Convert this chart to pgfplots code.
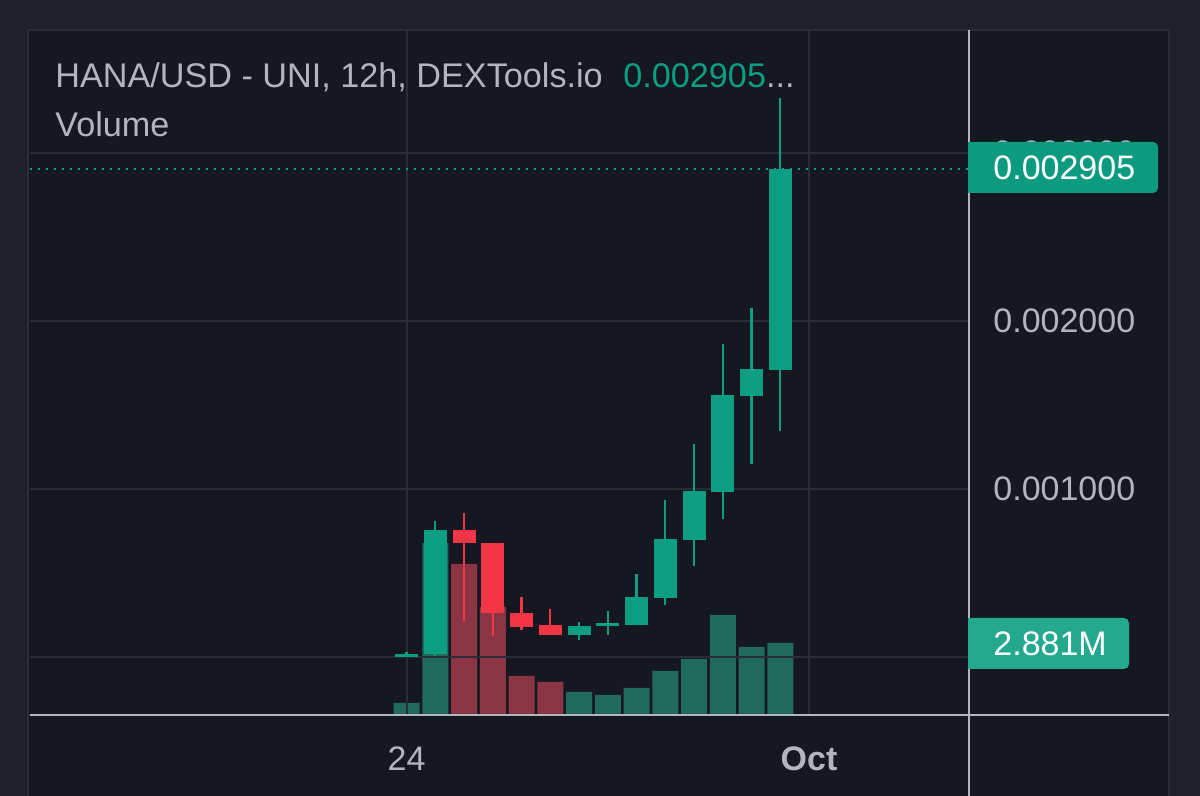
\documentclass[border=0pt]{standalone}
\usepackage{pgfplots}
\usepackage{pgfplotstable}
\pgfplotsset{compat=1.18}
\usepackage{fontspec}
\setmainfont{Liberation Sans}
\definecolor{outerbg}{HTML}{1E212B}
\definecolor{panelbg}{HTML}{161821}
\definecolor{gridc}{HTML}{2A2D38}
\definecolor{axc}{HTML}{B2B5BE}
\definecolor{txt}{HTML}{B2B5BE}
\definecolor{upc}{HTML}{0C9E83}
\definecolor{dnc}{HTML}{F23645}
\definecolor{upv}{HTML}{1F6A5D}
\definecolor{dnv}{HTML}{8A3444}
\definecolor{boxa}{HTML}{0C9B80}
\definecolor{boxb}{HTML}{24A88E}

% up candles: index, open, high, low, close
\pgfplotstableread{
i O H L C
0 0.000000 0.000030 0.000000 0.000018
1 0.000015 0.000810 0.000005 0.000756
6 0.000131 0.000208 0.000101 0.000185
7 0.000187 0.000274 0.000131 0.000205
8 0.000190 0.000494 0.000190 0.000357
9 0.000351 0.000935 0.000310 0.000702
10 0.000696 0.001268 0.000542 0.000988
11 0.000982 0.001865 0.000821 0.001560
12 0.001554 0.002077 0.001149 0.001714
13 0.001708 0.003327 0.001345 0.002905
}\up
% down candles
\pgfplotstableread{
i O H L C
2 0.000756 0.000857 0.000214 0.000679
3 0.000679 0.000679 0.000125 0.000262
4 0.000262 0.000357 0.000161 0.000179
5 0.000190 0.000286 0.000131 0.000131
}\down
% volume (millions)
\pgfplotstableread{
i v
0 0.48
1 6.88
6 0.92
7 0.80
8 1.08
9 1.76
10 2.24
11 4.00
12 2.72
13 2.881
}\upvol
\pgfplotstableread{
i v
2 6.04
3 4.32
4 1.56
5 1.32
}\dnvol

\pgfplotsset{candle/.style={only marks, mark size=0pt, mark options={draw=none, fill=none},
  error bars/y dir=both, error bars/y explicit, error bars/error mark=none}}

\begin{document}
\begin{tikzpicture}
\useasboundingbox (0,0) rectangle (600pt,398pt);
\fill[outerbg] (0,0) rectangle (600pt,398pt);
\fill[panelbg] (14pt,0pt) rectangle (584.5pt,383pt);
\draw[gridc, line width=0.8pt] (14pt,0pt) -- (14pt,383pt) -- (584.5pt,383pt) -- (584.5pt,0pt);

% volume axis
\begin{axis}[at={(15pt,40.5pt)}, anchor=south west, scale only axis,
  width=469.5pt, height=342.5pt,
  xmin=-13.096, xmax=19.565, ymin=0, ymax=27.4, hide axis]
\addplot[ybar, bar width=13pt, bar shift=0pt, fill=upv, draw=none] table[x=i,y=v]{\upvol};
\addplot[ybar, bar width=13pt, bar shift=0pt, fill=dnv, draw=none] table[x=i,y=v]{\dnvol};
\end{axis}

% price axis
\begin{axis}[at={(15pt,40.5pt)}, anchor=south west, scale only axis,
  width=469.5pt, height=342.5pt,
  xmin=-13.096, xmax=19.565, ymin=-0.00034524, ymax=0.00373214,
  axis line style={draw=none},
  xtick={0,14}, xticklabels={24,\textbf{Oct}},
  ytick={0,0.001,0.002,0.003},
  yticklabels={0,0.001000,0.002000,0.003000},
  scaled y ticks=false,
  yticklabel pos=right,
  grid=major, grid style={gridc, line width=1pt},
  major tick length=0pt, tick style={draw=none},
  ticklabel style={font=\fontsize{17}{20}\selectfont, text=txt},
  yticklabel style={anchor=west, inner sep=0pt, xshift=12pt},
  xticklabel style={anchor=base, inner sep=0pt, yshift=-28pt},
  clip=false]
\addplot[upc, line width=1.2pt, dash pattern=on 1.2pt off 2.8pt] coordinates {(-13.096,0.002905) (19.565,0.002905)};
% wicks
\addplot[candle, error bars/error bar style={line width=1.15pt, upc}]
  table[x=i, y expr={(\thisrow{H}+\thisrow{L})/2}, y error expr={(\thisrow{H}-\thisrow{L})/2}]{\up};
\addplot[candle, error bars/error bar style={line width=1.15pt, dnc}]
  table[x=i, y expr={(\thisrow{H}+\thisrow{L})/2}, y error expr={(\thisrow{H}-\thisrow{L})/2}]{\down};
% bodies
\addplot[candle, error bars/error bar style={line width=11.5pt, upc}]
  table[x=i, y expr={(\thisrow{O}+\thisrow{C})/2}, y error expr={abs(\thisrow{C}-\thisrow{O})/2}]{\up};
\addplot[candle, error bars/error bar style={line width=11.5pt, dnc}]
  table[x=i, y expr={(\thisrow{O}+\thisrow{C})/2}, y error expr={abs(\thisrow{C}-\thisrow{O})/2}]{\down};
\end{axis}

% axis lines
\draw[axc, line width=1.25pt] (484.5pt,0pt) -- (484.5pt,383pt);
\draw[axc, line width=1.25pt] (15pt,40.5pt) -- (584.5pt,40.5pt);

% price label box
\fill[boxa, rounded corners=2.5pt] (484pt,301.5pt) rectangle (579pt,327pt);
\fill[boxa] (484pt,301.5pt) rectangle (492pt,327pt);
\node[anchor=west, inner sep=0pt, text=white, font=\fontsize{17}{20}\selectfont] at (496.5pt,314.25pt) {0.002905};
% volume label box
\fill[boxb, rounded corners=2.5pt] (484pt,63.5pt) rectangle (564.5pt,89pt);
\fill[boxb] (484pt,63.5pt) rectangle (492pt,89pt);
\node[anchor=west, inner sep=0pt, text=white, font=\fontsize{17}{20}\selectfont] at (496.5pt,76.25pt) {2.881M};

% title
\node[anchor=base west, inner sep=0pt, text=txt, font=\fontsize{17.1}{21}\selectfont] at (27.5pt,354pt) {HANA/USD - UNI, 12h, DEXTools.io};
\node[anchor=base west, inner sep=0pt, font=\fontsize{17.1}{21}\selectfont] at (311.5pt,354pt) {\textcolor{upc}{0.002905}\textcolor{txt}{...}};
\node[anchor=base west, inner sep=0pt, text=txt, font=\fontsize{17.1}{21}\selectfont] at (27.5pt,329.5pt) {Volume};
\end{tikzpicture}
\end{document}
